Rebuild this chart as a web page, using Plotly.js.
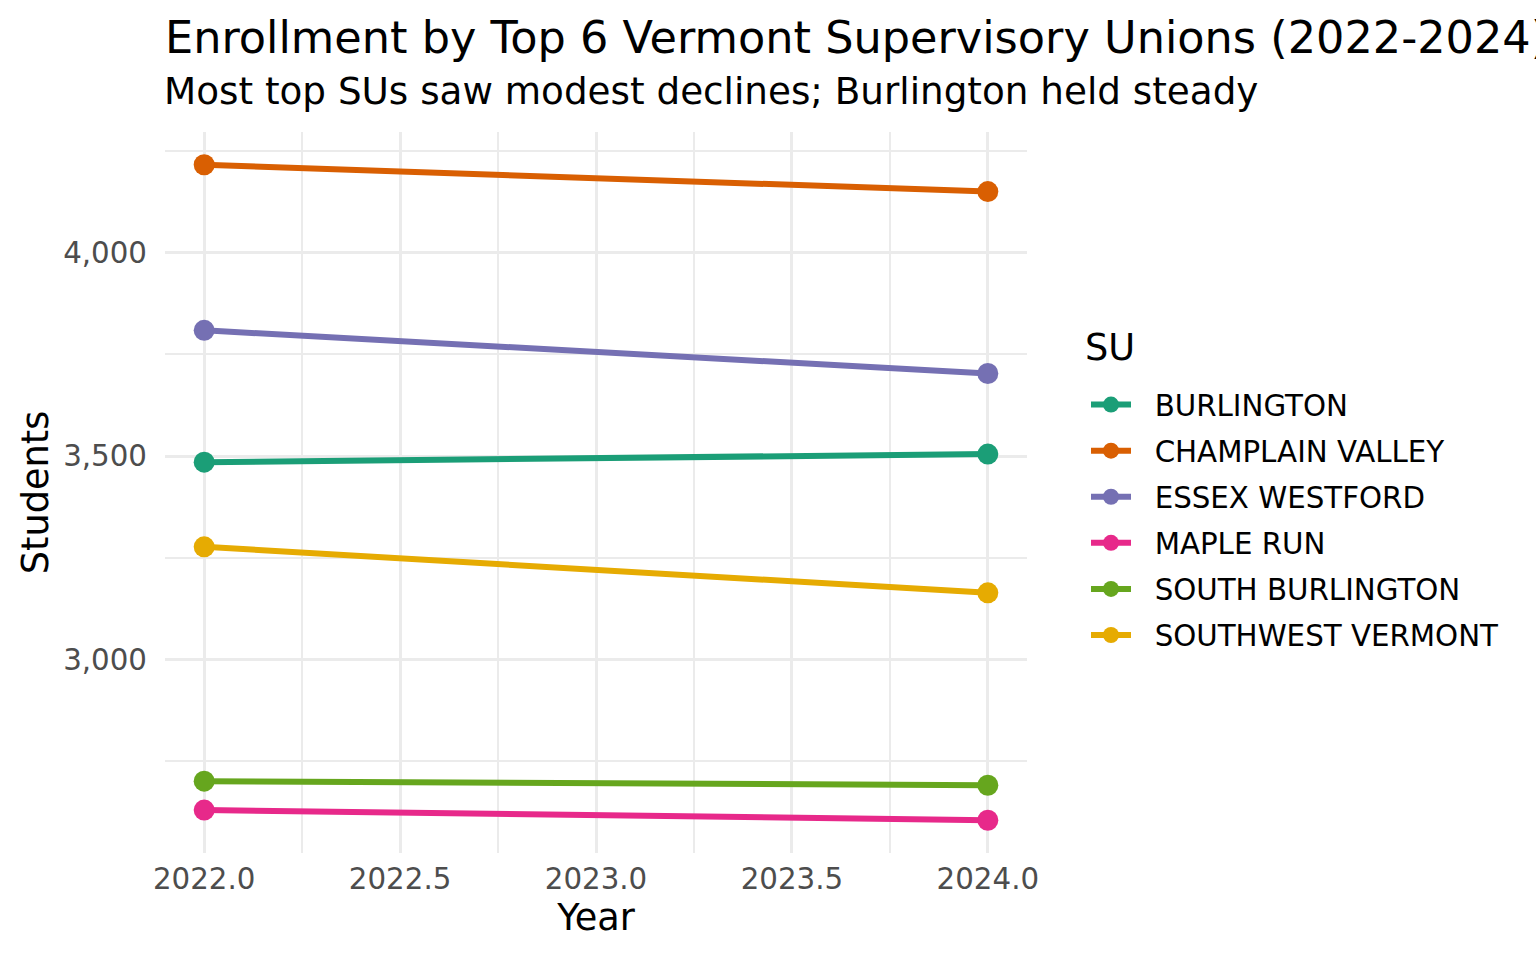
<!DOCTYPE html>
<html>
<head>
<meta charset="utf-8">
<script src="https://cdn.plot.ly/plotly-3.0.1.min.js"></script>
<style>
  html, body { margin: 0; padding: 0; background: #fff; }
  #chart { width: 1536px; height: 960px; }
</style>
</head>
<body>
<div id="chart"></div>
<script>
var years = [2022, 2024];
var unions = ['BURLINGTON', 'CHAMPLAIN VALLEY', 'ESSEX WESTFORD', 'MAPLE RUN', 'SOUTH BURLINGTON', 'SOUTHWEST VERMONT'];
var burlington = [3485, 3505];
var champlainValley = [4216, 4150];
var essexWestford = [3809, 3703];
var mapleRun = [2630, 2605];
var southBurlington = [2701, 2691];
var southwestVermont = [3277, 3164];
var colors = ['#1B9E77', '#D95F02', '#7570B3', '#E7298A', '#66A61E', '#E6AB02'];

var series = [burlington, champlainValley, essexWestford, mapleRun, southBurlington, southwestVermont];
var font = 'DejaVu Sans, sans-serif';

var traces = []
for (var i = 0; i < unions.length; i++) {
  traces.push({
    x: years,
    y: series[i],
    // two nbsp push the label away from the legend key, like ggplot
    name: '\u00A0\u00A0' + unions[i],
    legendgroup: unions[i],
    type: 'scatter',
    mode: 'lines+markers',
    line: {color: colors[i], width: 6},
    marker: {color: colors[i], size: 21}
  });
}

var layout = {
  width: 1536,
  height: 960,
  paper_bgcolor: '#fff',
  plot_bgcolor: '#fff',
  margin: {l: 165, r: 509, t: 132, b: 107},
  font: {family: font, color: '#000'},
  title: {
    text: 'Enrollment by Top 6 Vermont Supervisory Unions (2022-2024)',
    x: 165 / 1536, xref: 'container', xanchor: 'left',
    y: 1 - 37 / 960, yref: 'container', yanchor: 'middle',
    font: {family: font, size: 44.6, color: '#000'}
  },
  annotations: [{
    text: 'Most top SUs saw modest declines; Burlington held steady',
    xref: 'paper', yref: 'paper', x: 0, y: (853 - 91) / 721,
    xanchor: 'left', yanchor: 'middle', showarrow: false, xshift: -3,
    font: {family: font, size: 37.3, color: '#000'}
  }, {
    // legend title drawn apart so the gap under it can be set
    text: 'SU',
    xref: 'paper', yref: 'paper', x: (1083 - 165) / 862, y: (853 - 347) / 721,
    xanchor: 'left', yanchor: 'middle', showarrow: false,
    font: {family: font, size: 36.7, color: '#000'}
  }],
  xaxis: {
    range: [2021.9, 2024.1],
    tick0: 2022, dtick: 0.5,
    tickformat: '.1f',
    showgrid: true, gridcolor: '#EBEBEB', gridwidth: 3,
    minor: {dtick: 0.25, showgrid: true, gridcolor: '#EBEBEB', gridwidth: 1.5},
    zeroline: false, showline: false,
    ticks: '', ticklen: 0,
    ticklabelstandoff: 6,
    tickfont: {family: font, size: 29.3, color: '#4D4D4D'},
    title: {text: 'Year', font: {family: font, size: 36.7, color: '#000'}, standoff: 7}
  },
  yaxis: {
    range: [2524.5, 4296.5],
    tick0: 3000, dtick: 500,
    tickformat: ',d',
    showgrid: true, gridcolor: '#EBEBEB', gridwidth: 3,
    minor: {dtick: 250, showgrid: true, gridcolor: '#EBEBEB', gridwidth: 1.5},
    zeroline: false, showline: false,
    ticks: '', ticklen: 0,
    ticklabelstandoff: 17,
    tickfont: {family: font, size: 29.3, color: '#4D4D4D'},
    title: {text: 'Students', font: {family: font, size: 36.7, color: '#000'}, standoff: 3}
  },
  legend: {
    x: (1086 - 165) / 862, xanchor: 'left',
    y: (853 - 379) / 721, yanchor: 'top',
    font: {family: font, size: 29.3, color: '#000'},
    tracegroupgap: 5,
    itemwidth: 40,
    bgcolor: 'rgba(0,0,0,0)'
  },
  showlegend: true
};

Plotly.newPlot('chart', traces, layout, {displayModeBar: false});
</script>
</body>
</html>
